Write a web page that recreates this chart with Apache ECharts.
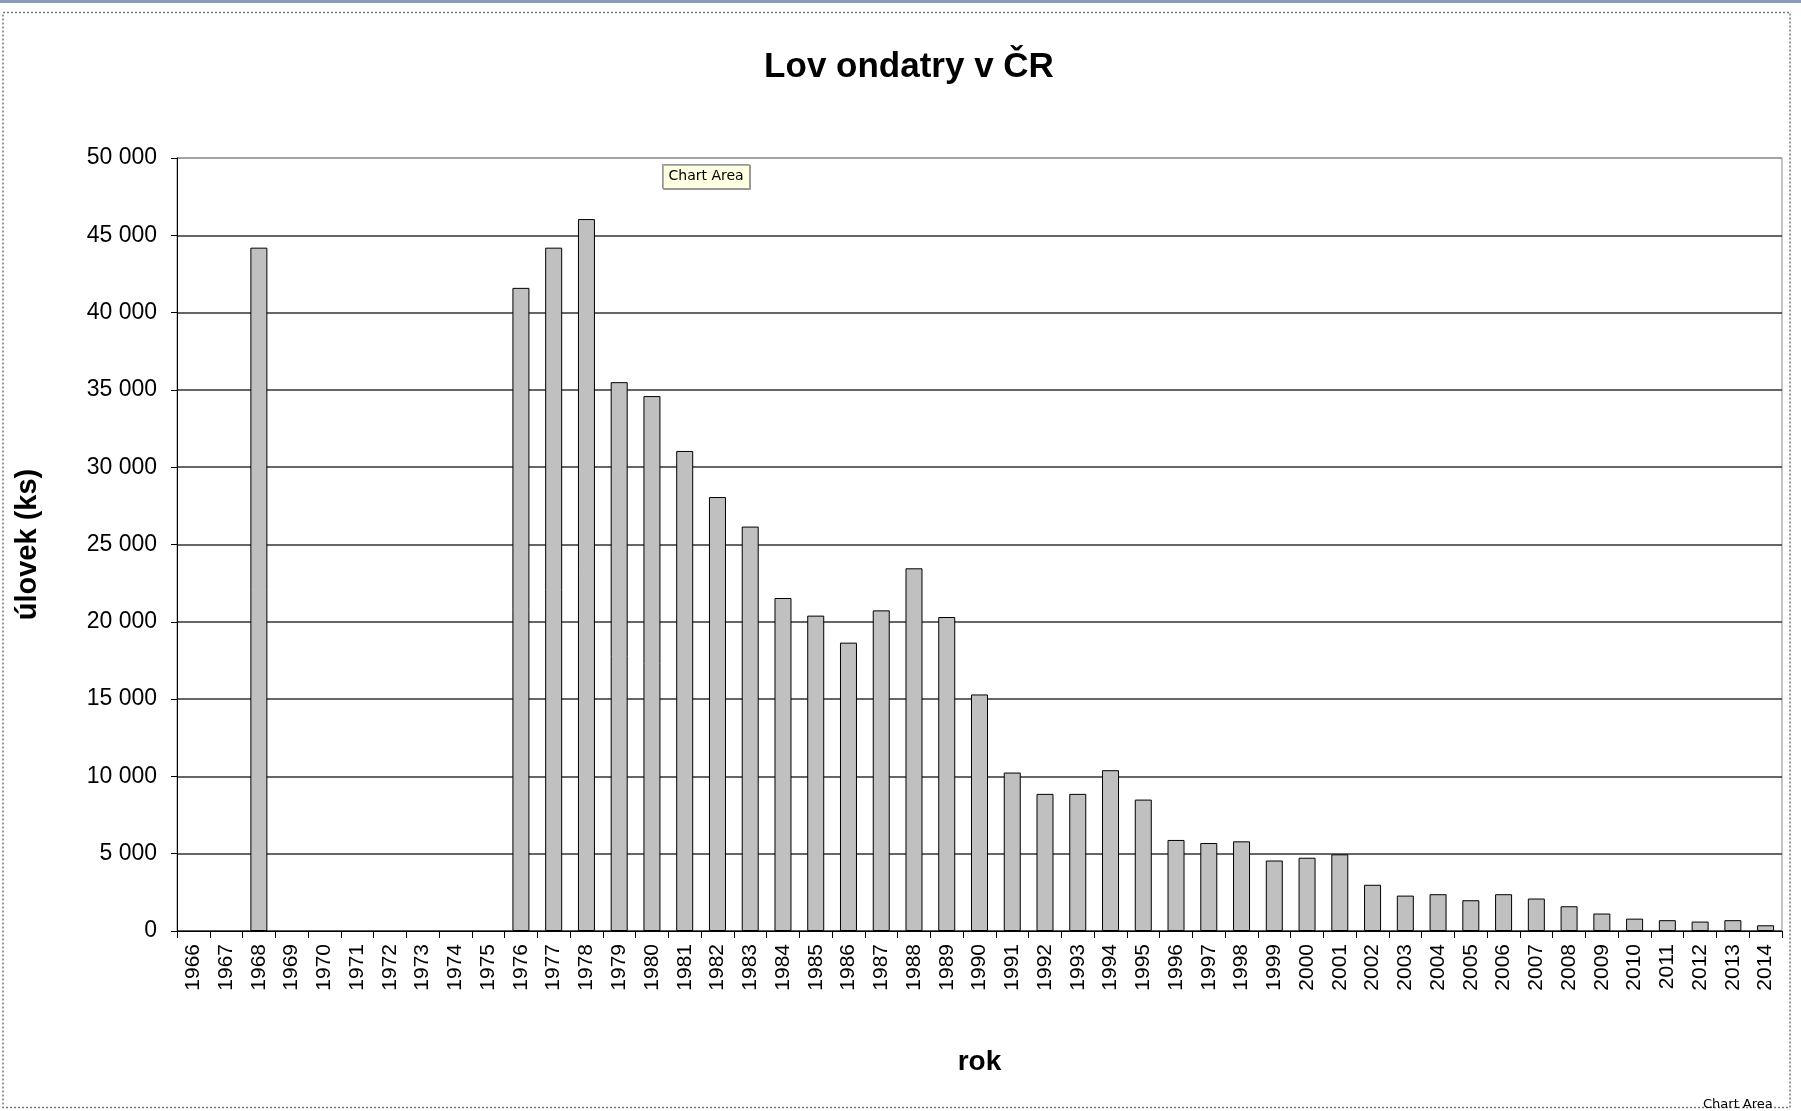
<!DOCTYPE html>
<html>
<head>
<meta charset="utf-8">
<script src="https://cdn.jsdelivr.net/npm/echarts@6/dist/echarts.min.js"></script>
<style>
html,body{margin:0;padding:0;background:#fff;}
#chart{width:1801px;height:1111px;}
</style>
</head>
<body>
<div id="chart"></div>
<script>
var chartTitle = 'Lov ondatry v ČR';
var yAxisTitle = 'úlovek (ks)';
var xAxisTitle = 'rok';
var years = ['1966','1967','1968','1969','1970','1971','1972','1973','1974','1975',
  '1976','1977','1978','1979','1980','1981','1982','1983','1984','1985',
  '1986','1987','1988','1989','1990','1991','1992','1993','1994','1995',
  '1996','1997','1998','1999','2000','2001','2002','2003','2004','2005',
  '2006','2007','2008','2009','2010','2011','2012','2013','2014'];
var catch_ks = [null,null,44200,null,null,null,null,null,null,null,
  41600,44200,46050,35500,34600,31050,28070,26160,21540,20400,
  18650,20740,23460,20310,15300,10250,8870,8870,10400,8500,
  5890,5690,5800,4560,4740,4960,2990,2290,2380,1990,
  2380,2100,1600,1130,800,700,610,700,370];
var yTicks = {min:0, max:50000, interval:5000};

function fmt(v){ return String(v).replace(/\B(?=(\d{3})+(?!\d))/g,' '); }

var gridColors = ['#333','#333','#333','#333','#333','#333','#333','#333','#333','#333','#999'];

var chart = echarts.init(document.getElementById('chart'), null, {renderer:'canvas'});
chart.setOption({
  animation:false,
  backgroundColor:'#fff',
  title:{
    text:chartTitle, left:909, textAlign:'center', top:50, padding:0,
    textStyle:{fontFamily:'Liberation Sans, Arial', fontSize:35, fontWeight:'bold', color:'#000'}
  },
  grid:{left:177, right:19, top:158, bottom:180, show:true, borderColor:'#888', borderWidth:1, backgroundColor:'transparent'},
  xAxis:{
    type:'category', data:years,
    name:xAxisTitle, nameLocation:'middle', nameGap:117,
    nameTextStyle:{fontFamily:'Liberation Sans, Arial', fontSize:28, fontWeight:'bold', color:'#000'},
    axisLine:{show:true, lineStyle:{color:'#000', width:1}},
    axisTick:{show:true, interval:0, length:7, lineStyle:{color:'#000'}},
    axisLabel:{interval:0, rotate:90, margin:13, fontFamily:'Liberation Sans, Arial', fontSize:21, color:'#000'},
    splitLine:{show:false}
  },
  yAxis:{
    type:'value', min:yTicks.min, max:yTicks.max, interval:yTicks.interval,
    name:yAxisTitle, nameLocation:'middle', nameRotate:90, nameGap:135,
    nameTextStyle:{fontFamily:'Liberation Sans, Arial', fontSize:29, fontWeight:'bold', color:'#000'},
    axisLine:{show:true, lineStyle:{color:'#000', width:1}},
    axisTick:{show:true, length:6, lineStyle:{color:'#000'}},
    axisLabel:{margin:20, fontFamily:'Liberation Sans, Arial', fontSize:23, color:'#000', formatter:fmt},
    splitLine:{show:true, lineStyle:{color:gridColors, width:1.5}}
  },
  series:[{
    type:'bar', data:catch_ks, barWidth:17,
    itemStyle:{color:'#C0C0C0', borderColor:'#000', borderWidth:1}
  }],
  graphic:[
    {type:'rect', shape:{x:0,y:0,width:1801,height:3}, style:{fill:'#8E9BB4'}, silent:true},
    {type:'rect', shape:{x:3,y:12.5,width:1787,height:1095}, style:{fill:'none', stroke:'#777', lineWidth:1.5, lineDash:[2,2]}, silent:true},
    {type:'group', left:662, top:164, children:[
      {type:'rect', shape:{x:0,y:0,width:87,height:24}, style:{fill:'#FFFFE1', stroke:'#999', lineWidth:1, shadowColor:'rgba(0,0,0,0.3)', shadowOffsetX:1, shadowOffsetY:1}},
      {type:'text', x:6, y:5, style:{text:'Chart Area', font:'14px "DejaVu Sans", sans-serif', fill:'#000'}}
    ]},
    {type:'text', left:1703, top:1098, style:{text:'Chart Area', font:'13px "DejaVu Sans", sans-serif', fill:'#000'}}
  ]
});
</script>
</body>
</html>
